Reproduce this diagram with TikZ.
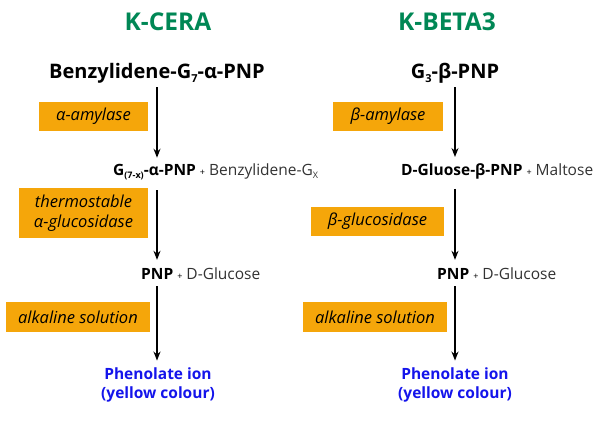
\documentclass[tikz,border=0pt]{standalone}
\usepackage{fontspec}
\setmainfont{Open Sans}
\usetikzlibrary{arrows.meta}
\definecolor{kgreen}{RGB}{0,135,85}
\definecolor{korange}{RGB}{245,166,10}
\definecolor{kblue}{RGB}{20,20,235}
\definecolor{kgray}{RGB}{50,50,50}
\newcommand{\lowsub}[2][9]{\raisebox{-0.35ex}{\fontsize{#1}{10}\selectfont #2}}
\begin{document}
\begin{tikzpicture}[x=1pt,y=-1pt,
  title/.style={font=\fontsize{24.5}{28}\selectfont\bfseries, text=kgreen},
  top/.style={font=\fontsize{20}{24}\selectfont\bfseries, inner sep=4pt},
  mid/.style={font=\fontsize{15.5}{19}\selectfont, inner sep=6pt},
  enz/.style={fill=korange, font=\fontsize{16.5}{20}\selectfont\itshape, align=center, inner sep=0pt},
  res/.style={font=\fontsize{15.5}{19}\selectfont\bfseries, text=kblue, align=center, inner sep=6pt},
  arr/.style={-{Stealth[length=9pt,width=7pt]}, line width=1.3pt}]
\useasboundingbox (0,0) rectangle (610,430);
% titles
\node[title] (t1) at (168,22) {K-CERA};
\node[title] (t2) at (447,22) {K-BETA3};
% top compounds
\node[top] (b1) at (157,73) {Benzylidene-G\lowsub[11]{7}-α-PNP};
\node[top] (b2) at (455,73) {G\lowsub[11]{3}-β-PNP};
% enzyme boxes
\node[enz, minimum width=109, minimum height=29] (e1) at (93.5,116.5) {α-amylase};
\node[enz, minimum width=110, minimum height=29] (e2) at (388,116.5) {β-amylase};
\node[enz, minimum width=129, minimum height=50] (e3) at (83.5,213) {thermostable\\α-glucosidase};
\node[enz, minimum width=133, minimum height=29] (e4) at (377.5,221.5) {β-glucosidase};
\node[enz, minimum width=144, minimum height=30] (e5) at (78,317) {alkaline solution};
\node[enz, minimum width=144, minimum height=30] (e6) at (375,317) {alkaline solution};
% intermediates
\node[mid, anchor=west] (m1) at (107,172) {\textbf{G\lowsub{(7-x)}-α-PNP} {\small+} \textcolor{kgray}{Benzylidene-G\lowsub{X}}};
\node[mid, anchor=west] (m2) at (395,171) {\textbf{D-Gluose-β-PNP} {\small+} \textcolor{kgray}{Maltose}};
\node[mid, anchor=west] (p1) at (135,274) {\textbf{PNP} {\small+} \textcolor{kgray}{D-Glucose}};
\node[mid, anchor=west] (p2) at (431,274) {\textbf{PNP} {\small+} \textcolor{kgray}{D-Glucose}};
% results
\node[res] (r1) at (158,385) {Phenolate ion\\(yellow colour)};
\node[res] (r2) at (455,385) {Phenolate ion\\(yellow colour)};
% arrows
\draw[arr] (b1.south) -- (b1.south |- m1.north);
\draw[arr, shorten <=4pt, shorten >=2pt] (b1.south |- m1.south) -- (b1.south |- p1.north);
\draw[arr, shorten >=1pt] (b1.south |- p1.south) -- (b1.south |- r1.north);
\draw[arr] (b2.south) -- (b2.south |- m2.north);
\draw[arr, shorten <=4pt, shorten >=2pt] (b2.south |- m2.south) -- (b2.south |- p2.north);
\draw[arr, shorten >=1pt] (b2.south |- p2.south) -- (b2.south |- r2.north);
\end{tikzpicture}
\end{document}
